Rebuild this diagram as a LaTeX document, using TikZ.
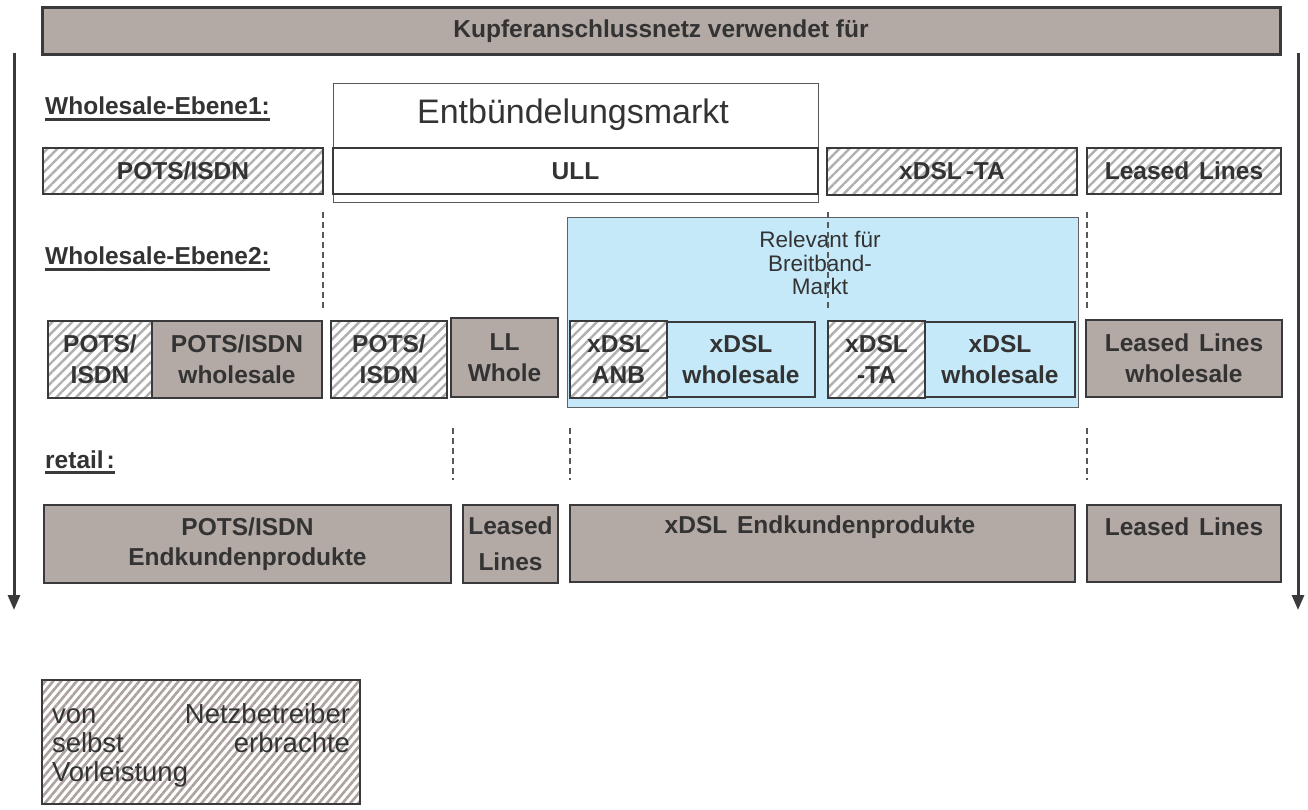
\documentclass[tikz,border=0pt]{standalone}
\usepackage{fontspec}
\setmainfont{Liberation Sans}
\usetikzlibrary{arrows.meta,patterns.meta}
\definecolor{boxgray}{HTML}{B3A9A5}
\definecolor{lblue}{HTML}{C5E9F9}
\definecolor{dk}{HTML}{3A3A3C}
\definecolor{txt}{HTML}{333333}
\definecolor{hatchc}{HTML}{B0B0B0}
\definecolor{hatchbr}{HTML}{ADA29E}
\tikzset{
  box/.style={draw=dk, line width=2.5pt, inner sep=0pt, outer sep=0pt, text=txt,
    font=\bfseries\fontsize{24.5}{31}\selectfont, align=center},
  graybox/.style={box, fill=boxgray},
  whitebox/.style={box, fill=white},
  bluebox/.style={box, fill=lblue},
  hatchbox/.style={box, preaction={fill=white},
    pattern={Lines[angle=45,distance=7pt,line width=2.4pt]}, pattern color=hatchc},
  legbox/.style={box, preaction={fill=white},
    pattern={Lines[angle=50,distance=6pt,line width=2.6pt]}, pattern color=hatchbr},
  thinbox/.style={draw=dk!85, line width=1pt, inner sep=0pt, outer sep=0pt},
  bluebg/.style={draw=dk!80, line width=1pt, fill=lblue, inner sep=0pt, outer sep=0pt},
  lbl/.style={inner sep=0pt, text=txt, font=\bfseries\fontsize{24.5}{28}\selectfont},
  plaintxt/.style={inner sep=0pt, text=txt, font=\fontsize{22.5}{23.5}\selectfont, align=center},
  boldtxt/.style={inner sep=0pt, text=txt, font=\bfseries\fontsize{24.5}{31}\selectfont, align=center},
  uline/.style={draw=dk, line width=2.6pt},
  sep/.style={draw=dk!85, line width=1.2pt, dash pattern=on 6pt off 4pt},
  arr/.style={draw=dk, line width=3pt, -{Triangle[width=12pt,length=15pt]}},
}
\newcommand{\bx}[7]{\node[#6, minimum width={(#4)-(#2)}, minimum height={(#5)-(#3)}] (#1) at ({((#2)+(#4))/2},{((#3)+(#5))/2}) {#7};}
\begin{document}
\begin{tikzpicture}[x=1pt,y=-1pt]
\useasboundingbox (0,0) rectangle (1308,810);
% title bar
\bx{top}{42}{8}{1280}{55}{graybox, line width=3pt, font=\bfseries\fontsize{24.5}{28}\selectfont}{Kupferanschlussnetz verwendet für}
% side arrows
\coordinate (la1) at (14,53); \coordinate (la2) at (14,610);
\coordinate (ra1) at (1298,53); \coordinate (ra2) at (1298,610);
\draw[arr] (la1) -- (la2);
\draw[arr] (ra1) -- (ra2);
% level labels
\node[lbl, anchor=base west] (we1) at (45,115) {Wholesale-Ebene1:};
\draw[uline] ([yshift=-4.5pt]we1.base west) -- ([yshift=-4.5pt]we1.base east);
\node[lbl, anchor=base west] (we2) at (45,265) {Wholesale-Ebene2:};
\draw[uline] ([yshift=-4.5pt]we2.base west) -- ([yshift=-4.5pt]we2.base east);
\node[lbl, anchor=base west] (ret) at (45,468) {retail\hspace{3pt}:};
\draw[uline] ([yshift=-4.5pt]ret.base west) -- ([yshift=-4.5pt]ret.base east);
% level 1
\bx{entb}{333}{84}{818}{203}{thinbox}{}
\node[plaintxt, font=\fontsize{34}{36}\selectfont] (entbl) at (573,115) {Entbündelungsmarkt};
\bx{ull}{333}{148}{818}{194}{whitebox}{ULL}
\bx{pots1}{43}{148}{323}{194}{hatchbox}{POTS/ISDN}
\bx{xta1}{827}{148}{1077}{195}{hatchbox}{xDSL\hspace{4pt}-TA}
\bx{ll1}{1087}{148}{1281}{194}{hatchbox}{Leased\hspace{3pt} Lines}
% broadband market region
\bx{bb}{567}{218}{1078}{407}{bluebg}{}
\node[plaintxt] (bbl) at (820,263) {Relevant für\\Breitband-\\Markt};
% level 2
\bx{r2a}{48}{321}{152}{398}{hatchbox}{POTS/\\ISDN}
\bx{r2b}{152}{321}{322}{398}{graybox}{POTS/ISDN\\wholesale}
\bx{r2c}{331}{321}{447}{398}{hatchbox}{POTS/\\ISDN}
\bx{r2d}{451}{318}{558}{397}{graybox}{LL\\Whole}
\bx{r2e}{570}{321}{667}{398}{hatchbox}{xDSL\\ANB}
\bx{r2f}{667}{322}{815}{397}{bluebox}{xDSL\\wholesale}
\bx{r2g}{828}{321}{925}{398}{hatchbox}{xDSL\\-TA}
\bx{r2h}{925}{322}{1075}{397}{bluebox}{xDSL\\wholesale}
\bx{r2i}{1086}{320}{1282}{397}{graybox}{Leased\hspace{3pt} Lines\\wholesale}
% separators upper
\coordinate (s1a) at (323,212); \coordinate (s1b) at (323,311);
\coordinate (s2a) at (828,212); \coordinate (s2b) at (828,311);
\coordinate (s3a) at (1087,212); \coordinate (s3b) at (1087,311);
\draw[sep] (s1a) -- (s1b);
\draw[sep] (s2a) -- (s2b);
\draw[sep] (s3a) -- (s3b);
% separators lower
\coordinate (t1a) at (453,428); \coordinate (t1b) at (453,480);
\coordinate (t2a) at (570,428); \coordinate (t2b) at (570,480);
\coordinate (t3a) at (1087,428); \coordinate (t3b) at (1087,480);
\draw[sep] (t1a) -- (t1b);
\draw[sep] (t2a) -- (t2b);
\draw[sep] (t3a) -- (t3b);
% retail
\bx{rt1}{44}{505}{451}{583}{graybox, font=\bfseries\fontsize{24.5}{30}\selectfont}{POTS/ISDN\\Endkundenprodukte}
\bx{rt2}{463}{505}{558}{583}{graybox, font=\bfseries\fontsize{24.5}{36}\selectfont}{Leased\\Lines}
\bx{rt3}{570}{505}{1075}{582}{graybox}{}
\node[boldtxt] (rt3l) at (820,527) {xDSL\hspace{3pt} Endkundenprodukte};
\bx{rt4}{1087}{505}{1281}{582}{graybox}{}
\node[boldtxt] (rt4l) at (1184,527) {Leased\hspace{3pt} Lines};
% legend
\bx{leg}{42}{680}{360}{804}{legbox}{}
\node[inner sep=0pt, text=txt, font=\fontsize{27.5}{29}\selectfont, align=left, text width=298pt] (legl) at (201,745)
  {\makebox[298pt][l]{von\hfill Netzbetreiber}\\\makebox[298pt][l]{selbst\hfill erbrachte}\\Vorleistung};
\end{tikzpicture}
\end{document}
